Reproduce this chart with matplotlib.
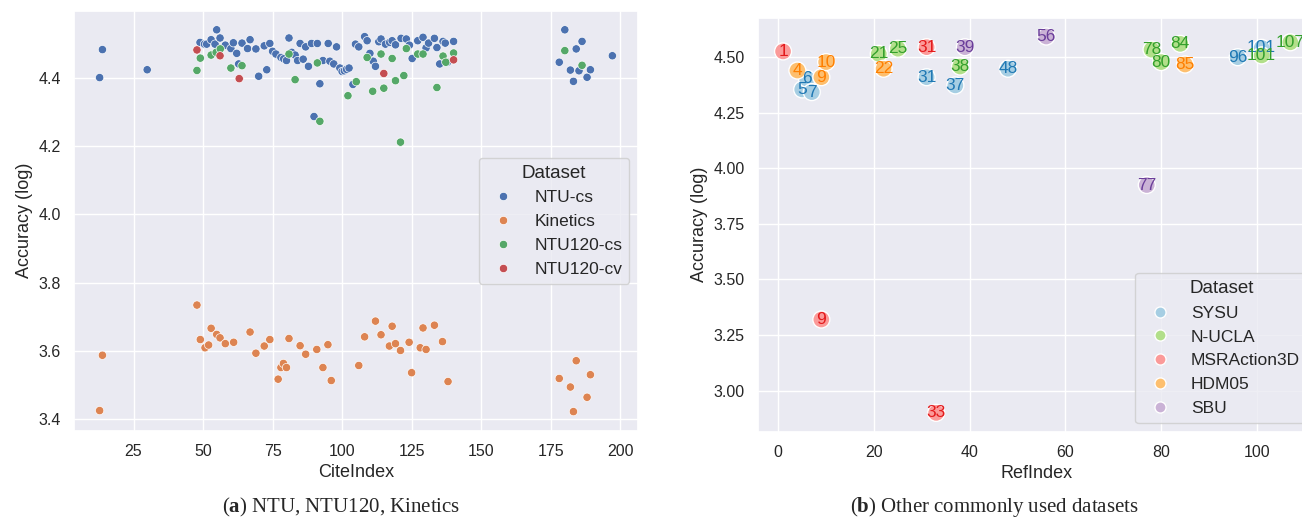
import pandas as pd
import seaborn as sns
import matplotlib
matplotlib.use("Agg")
import matplotlib.pyplot as plt

# ---- left panel data: (CiteIndex, Accuracy) per dataset ----
ntu_cs_x = [12.8, 13.8, 29.9, 48.9, 50.5, 51.3, 52.9, 54.3, 54.9, 56.1, 58.0, 60.0, 60.9, 62.1, 62.8,
            64.0, 66.0, 66.9, 69.0, 70.0, 72.0, 72.9, 74.0, 75.0, 76.2, 78.0, 79.0, 80.0, 80.9, 81.9,
            83.1, 84.0, 84.9, 86.0, 86.9, 87.9, 89.0, 89.9, 91.1, 92.0, 93.1, 95.0, 95.6, 97.0, 98.0,
            99.2, 100.0, 100.8, 101.6, 102.5, 103.9, 104.8, 106.0, 108.1, 109.0, 110.0, 111.2, 112.0,
            113.2, 114.0, 115.6, 117.1, 118.0, 119.2, 121.2, 123.1, 124.2, 125.2, 127.2, 129.1, 130.2,
            131.1, 133.2, 134.1, 135.1, 136.3, 137.1, 137.9, 140.1, 178.1, 180.1, 182.1, 183.2, 184.2,
            185.2, 186.3, 188.1, 189.3, 197.2]
ntu_cs_y = [4.400, 4.482, 4.423, 4.503, 4.498, 4.498, 4.511, 4.498, 4.540, 4.516, 4.495, 4.485, 4.502,
            4.471, 4.440, 4.501, 4.485, 4.511, 4.484, 4.404, 4.493, 4.423, 4.500, 4.477, 4.469, 4.459,
            4.455, 4.450, 4.516, 4.474, 4.466, 4.450, 4.500, 4.454, 4.490, 4.433, 4.500, 4.286, 4.500,
            4.382, 4.450, 4.500, 4.448, 4.440, 4.490, 4.428, 4.418, 4.420, 4.424, 4.428, 4.380, 4.498,
            4.490, 4.520, 4.508, 4.471, 4.448, 4.433, 4.505, 4.513, 4.498, 4.503, 4.508, 4.496, 4.515,
            4.513, 4.495, 4.456, 4.508, 4.518, 4.487, 4.501, 4.515, 4.488, 4.440, 4.506, 4.501, 4.445,
            4.506, 4.445, 4.540, 4.422, 4.389, 4.484, 4.420, 4.506, 4.401, 4.423, 4.464]

kinetics_x = [12.8, 13.8, 47.8, 49.0, 50.7, 52.0, 52.9, 54.9, 56.1, 58.0, 61.0, 66.9, 69.0, 72.0, 74.0,
              77.0, 78.0, 78.9, 80.0, 80.9, 84.9, 86.9, 90.9, 93.1, 94.9, 96.1, 106.0, 108.1, 112.0,
              114.0, 117.0, 118.0, 119.2, 121.0, 124.1, 125.0, 128.1, 129.1, 130.2, 133.2, 136.1, 138.1,
              178.1, 182.1, 183.2, 184.2, 188.1, 189.3]
kinetics_y = [3.425, 3.587, 3.734, 3.633, 3.609, 3.617, 3.666, 3.648, 3.638, 3.621, 3.625, 3.655, 3.593,
              3.614, 3.633, 3.517, 3.551, 3.563, 3.551, 3.636, 3.615, 3.590, 3.604, 3.551, 3.618, 3.513,
              3.557, 3.641, 3.687, 3.647, 3.614, 3.672, 3.621, 3.601, 3.625, 3.536, 3.609, 3.667, 3.604,
              3.675, 3.627, 3.510, 3.519, 3.494, 3.422, 3.571, 3.464, 3.530]

ntu120_cs_x = [47.8, 49.0, 52.9, 54.7, 56.2, 60.0, 64.0, 80.9, 83.1, 91.1, 92.0, 102.1, 105.1, 109.0,
               111.0, 114.0, 115.0, 118.0, 119.2, 121.0, 122.2, 123.1, 127.2, 129.1, 134.1, 136.3,
               137.3, 140.1, 180.1, 186.3]
ntu120_cs_y = [4.421, 4.457, 4.466, 4.474, 4.484, 4.428, 4.435, 4.469, 4.394, 4.443, 4.272, 4.347, 4.388,
               4.459, 4.360, 4.469, 4.369, 4.456, 4.391, 4.211, 4.406, 4.485, 4.469, 4.469, 4.371, 4.463,
               4.445, 4.472, 4.479, 4.436]

ntu120_cv_x = [47.8, 56.1, 63.0, 115.0, 140.1]
ntu120_cv_y = [4.481, 4.464, 4.397, 4.412, 4.452]

# ---- right panel data: RefIndex, Accuracy ----
sysu_x = [5, 6, 7, 31, 37, 48, 96, 101]
sysu_y = [4.355, 4.403, 4.343, 4.410, 4.373, 4.448, 4.500, 4.542]
nucla_x = [21, 25, 38, 78, 80, 84, 101, 107]
nucla_y = [4.515, 4.538, 4.458, 4.534, 4.478, 4.560, 4.508, 4.567]
msr_x = [1, 9, 31, 33]
msr_y = [4.526, 3.320, 4.545, 2.900]
hdm_x = [4, 9, 10, 22, 85]
hdm_y = [4.440, 4.410, 4.478, 4.448, 4.467]
sbu_x = [39, 56, 77]
sbu_y = [4.545, 4.593, 3.925]

left_names = ["NTU-cs", "Kinetics", "NTU120-cs", "NTU120-cv"]
right_names = ["SYSU", "N-UCLA", "MSRAction3D", "HDM05", "SBU"]

left_df = pd.concat([
    pd.DataFrame({"CiteIndex": xs, "Accuracy (log)": ys, "Dataset": n})
    for n, xs, ys in zip(left_names,
                         [ntu_cs_x, kinetics_x, ntu120_cs_x, ntu120_cv_x],
                         [ntu_cs_y, kinetics_y, ntu120_cs_y, ntu120_cv_y])
], ignore_index=True)

right_df = pd.concat([
    pd.DataFrame({"RefIndex": xs, "Accuracy (log)": ys, "Dataset": n})
    for n, xs, ys in zip(right_names,
                         [sysu_x, nucla_x, msr_x, hdm_x, sbu_x],
                         [sysu_y, nucla_y, msr_y, hdm_y, sbu_y])
], ignore_index=True)

sns.set_theme()
plt.rcParams['font.family'] = ['Liberation Sans', 'DejaVu Sans']
plt.rcParams['xtick.labelsize'] = 11.5
plt.rcParams['ytick.labelsize'] = 11.5
plt.rcParams['axes.labelsize'] = 13
plt.rcParams['mathtext.fontset'] = 'custom'
plt.rcParams['mathtext.bf'] = 'Liberation Serif:bold'
plt.rcParams['mathtext.rm'] = 'Liberation Serif'

fig = plt.figure(figsize=(13.02, 5.18), dpi=100)
ax1 = fig.add_axes([74 / 1302, 87.3 / 518, 564 / 1302, 420 / 518])
# right panel runs past the figure edge, as in the cropped original
ax2 = fig.add_axes([757.7 / 1302, 86.3 / 518, 558 / 1302, 414 / 518])

sns.scatterplot(data=left_df, x="CiteIndex", y="Accuracy (log)", hue="Dataset", ax=ax1)
ax1.legend(title="Dataset", loc="center right", fontsize=12.5, title_fontsize=13.5)

paired = sns.color_palette("Paired", 10)
light = [paired[i] for i in (0, 2, 4, 6, 8)]
dark = [paired[i] for i in (1, 3, 5, 7, 9)]
sns.scatterplot(data=right_df, x="RefIndex", y="Accuracy (log)", hue="Dataset",
                palette=light, s=150, ax=ax2)
for i, row in right_df.iterrows():
    c = dark[right_names.index(row["Dataset"])]
    ax2.text(row["RefIndex"], row["Accuracy (log)"], str(row["RefIndex"]), color=c,
             fontsize=12.5, ha="center", va="center")
leg = ax2.legend(title="Dataset", loc="lower right", fontsize=12.5, title_fontsize=13.5)
for h in leg.legend_handles:
    if hasattr(h, "set_markersize"):
        h.set_markersize(8)
    else:
        h.set_sizes([50])

serif = dict(family="Liberation Serif", fontsize=15, ha="center", va="bottom")
fig.text(341.5 / 1302, -1 / 518, r"($\mathbf{a}$) NTU, NTU120, Kinetics", **serif)
fig.text(994.5 / 1302, -1 / 518, r"($\mathbf{b}$) Other commonly used datasets", **serif)

fig.savefig("out.png", dpi=100)
